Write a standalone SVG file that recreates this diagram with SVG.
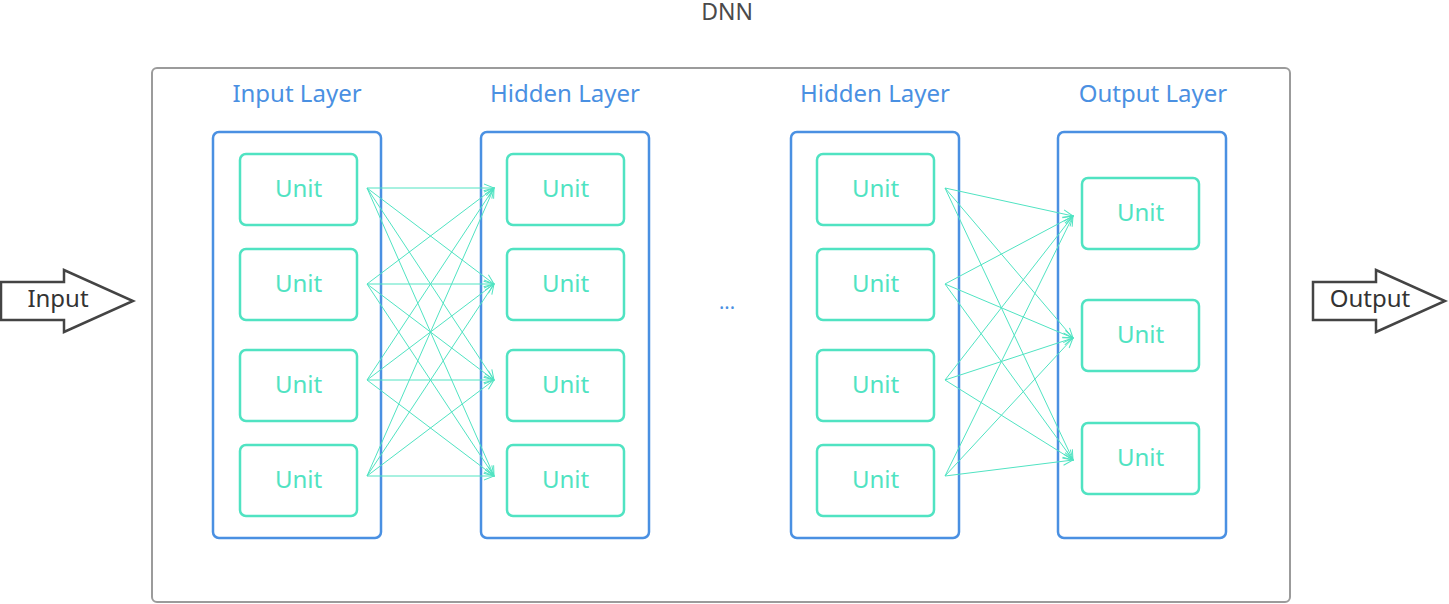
<svg xmlns="http://www.w3.org/2000/svg" width="1449" height="604" viewBox="0 0 1449 604">
<defs>
<marker id="ah" viewBox="0 0 12 10" refX="11" refY="5" markerWidth="12" markerHeight="10" markerUnits="userSpaceOnUse" orient="auto">
<path d="M1,1 L11,5 L1,9" fill="none" stroke="#50e3c2" stroke-width="1"/>
</marker>
</defs>
<style>
text{font-family:"Noto Sans","Open Sans",sans-serif;}
.dnn{fill:none;stroke:#9b9b9b;stroke-width:2;}
.layer{fill:none;stroke:#4a90e2;stroke-width:2.5;}
.unit{fill:#fff;stroke:#50e3c2;stroke-width:2.5;}
.ut{fill:#50e3c2;font-size:24px;text-anchor:middle;}
.lt{fill:#4a90e2;font-size:24px;text-anchor:middle;}
.io{fill:#fff;stroke:#444;stroke-width:2.5;stroke-linejoin:miter;}
.iot{fill:#333;font-size:24px;text-anchor:middle;}
.conn line{stroke:#50e3c2;stroke-width:1;marker-end:url(#ah);}
</style>
<rect width="1449" height="604" fill="#fff"/>
<text x="727" y="20" style="fill:#4a4a4a;font-size:23px;text-anchor:middle;">DNN</text>
<g id="dnn"><rect class="dnn" x="152" y="68" width="1138" height="534" rx="5"/></g>

<g id="input-arrow">
<polygon class="io" points="1,282 64,282 64,270 133,301 64,332 64,320 1,320"/>
<text class="iot" x="58" y="307">Input</text>
</g>
<g id="output-arrow">
<polygon class="io" points="1313,282 1376,282 1376,270 1445,301 1376,332 1376,320 1313,320"/>
<text class="iot" x="1370" y="307">Output</text>
</g>

<g id="input-layer">
<text class="lt" x="297" y="102">Input Layer</text>
<rect class="layer" x="213" y="132" width="168" height="406" rx="6"/>
</g>
<g id="hidden-layer-1">
<text class="lt" x="565" y="102">Hidden Layer</text>
<rect class="layer" x="481" y="132" width="168" height="406" rx="6"/>
</g>
<g id="hidden-layer-2">
<text class="lt" x="875" y="102">Hidden Layer</text>
<rect class="layer" x="791" y="132" width="168" height="406" rx="6"/>
</g>
<g id="output-layer">
<text class="lt" x="1153" y="102">Output Layer</text>
<rect class="layer" x="1058" y="132" width="168" height="406" rx="6"/>
</g>
<text x="727" y="309" style="fill:#4a90e2;font-size:20px;text-anchor:middle;">...</text>

<g id="in-u1"><rect class="unit" x="240" y="154" width="117" height="71" rx="6"/><text class="ut" x="298.5" y="197">Unit</text></g>
<g id="in-u2"><rect class="unit" x="240" y="249" width="117" height="71" rx="6"/><text class="ut" x="298.5" y="292">Unit</text></g>
<g id="in-u3"><rect class="unit" x="240" y="350" width="117" height="71" rx="6"/><text class="ut" x="298.5" y="393">Unit</text></g>
<g id="in-u4"><rect class="unit" x="240" y="445" width="117" height="71" rx="6"/><text class="ut" x="298.5" y="488">Unit</text></g>

<g id="h1-u1"><rect class="unit" x="507" y="154" width="117" height="71" rx="6"/><text class="ut" x="565.5" y="197">Unit</text></g>
<g id="h1-u2"><rect class="unit" x="507" y="249" width="117" height="71" rx="6"/><text class="ut" x="565.5" y="292">Unit</text></g>
<g id="h1-u3"><rect class="unit" x="507" y="350" width="117" height="71" rx="6"/><text class="ut" x="565.5" y="393">Unit</text></g>
<g id="h1-u4"><rect class="unit" x="507" y="445" width="117" height="71" rx="6"/><text class="ut" x="565.5" y="488">Unit</text></g>

<g id="h2-u1"><rect class="unit" x="817" y="154" width="117" height="71" rx="6"/><text class="ut" x="875.5" y="197">Unit</text></g>
<g id="h2-u2"><rect class="unit" x="817" y="249" width="117" height="71" rx="6"/><text class="ut" x="875.5" y="292">Unit</text></g>
<g id="h2-u3"><rect class="unit" x="817" y="350" width="117" height="71" rx="6"/><text class="ut" x="875.5" y="393">Unit</text></g>
<g id="h2-u4"><rect class="unit" x="817" y="445" width="117" height="71" rx="6"/><text class="ut" x="875.5" y="488">Unit</text></g>

<g id="out-u1"><rect class="unit" x="1082" y="178" width="117" height="71" rx="6"/><text class="ut" x="1140.5" y="221">Unit</text></g>
<g id="out-u2"><rect class="unit" x="1082" y="300" width="117" height="71" rx="6"/><text class="ut" x="1140.5" y="343">Unit</text></g>
<g id="out-u3"><rect class="unit" x="1082" y="423" width="117" height="71" rx="6"/><text class="ut" x="1140.5" y="466">Unit</text></g>

<g id="connectors" class="conn">
<line x1="367" y1="188" x2="494" y2="188"/>
<line x1="367" y1="188" x2="494" y2="284"/>
<line x1="367" y1="188" x2="494" y2="380"/>
<line x1="367" y1="188" x2="494" y2="476"/>
<line x1="367" y1="284" x2="494" y2="188"/>
<line x1="367" y1="284" x2="494" y2="284"/>
<line x1="367" y1="284" x2="494" y2="380"/>
<line x1="367" y1="284" x2="494" y2="476"/>
<line x1="367" y1="380" x2="494" y2="188"/>
<line x1="367" y1="380" x2="494" y2="284"/>
<line x1="367" y1="380" x2="494" y2="380"/>
<line x1="367" y1="380" x2="494" y2="476"/>
<line x1="367" y1="476" x2="494" y2="188"/>
<line x1="367" y1="476" x2="494" y2="284"/>
<line x1="367" y1="476" x2="494" y2="380"/>
<line x1="367" y1="476" x2="494" y2="476"/>
<line x1="945" y1="188" x2="1073" y2="216"/>
<line x1="945" y1="188" x2="1073" y2="338"/>
<line x1="945" y1="188" x2="1073" y2="460"/>
<line x1="945" y1="284" x2="1073" y2="216"/>
<line x1="945" y1="284" x2="1073" y2="338"/>
<line x1="945" y1="284" x2="1073" y2="460"/>
<line x1="945" y1="380" x2="1073" y2="216"/>
<line x1="945" y1="380" x2="1073" y2="338"/>
<line x1="945" y1="380" x2="1073" y2="460"/>
<line x1="945" y1="476" x2="1073" y2="216"/>
<line x1="945" y1="476" x2="1073" y2="338"/>
<line x1="945" y1="476" x2="1073" y2="460"/>
</g>
</svg>
